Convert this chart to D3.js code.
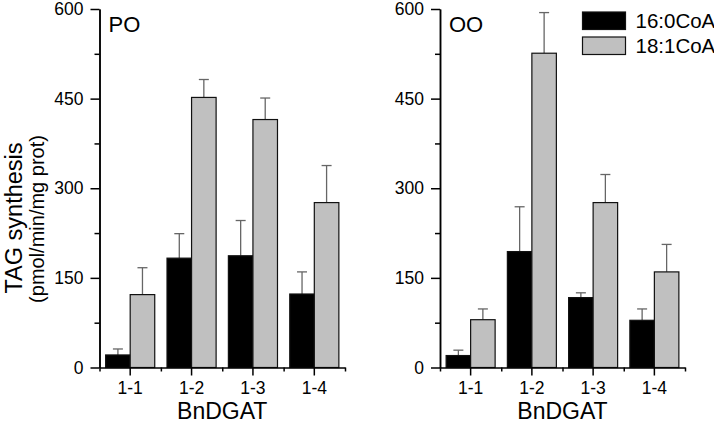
<!DOCTYPE html>
<html lang="en">
  <head>
    <meta charset="utf-8" />
    <title>TAG synthesis</title>
    <script src="https://cdnjs.cloudflare.com/ajax/libs/d3/7.0.0/d3.min.js"></script>
    <style>
      body {
        margin: 0;
        background: #fff;
      }
      svg {
        font-family: "Liberation Sans", Arial, sans-serif;
      }
      .axis path,
      .axis line {
        stroke: #000;
        stroke-width: 1.5px;
      }
      .axis text {
        font-size: 17.5px;
        fill: #000;
      }
      .err {
        stroke: #666;
        stroke-width: 1.3px;
      }
    </style>
  </head>
  <body>
    <div id="chart"></div>
    <script>
      // data
      const categories = ["1-1", "1-2", "1-3", "1-4"];
      const seriesNames = ["16:0CoA", "18:1CoA"];
      const poPalm = [21, 183, 187, 123];
      const poPalmErr = [10, 41, 59, 37];
      const poOle = [122, 452, 415, 276];
      const poOleErr = [45, 30, 36, 62];
      const ooPalm = [20, 194, 117, 79];
      const ooPalmErr = [9, 75, 8, 19];
      const ooOle = [80, 526, 276, 160];
      const ooOleErr = [18, 68, 47, 46];
      const yMajor = [0, 150, 300, 450, 600];
      const yMinor = [75, 225, 375, 525];

      const panels = [
        { title: "PO", x0: 99.5, x1: 345, series: [[poPalm, poPalmErr], [poOle, poOleErr]] },
        { title: "OO", x0: 440, x1: 685, series: [[ooPalm, ooPalmErr], [ooOle, ooOleErr]] },
      ];
      const fills = ["#000000", "#c0c0c0"];

      const width = 714,
        height = 424;
      const svg = d3
        .select("#chart")
        .append("svg")
        .attr("width", width)
        .attr("height", height);

      const y = d3.scaleLinear().domain([0, 600]).range([367.5, 9]);

      panels.forEach((p, pi) => {
        const x = d3
          .scaleBand()
          .domain(categories)
          .range([p.x0, p.x1])
          .paddingInner(0.2)
          .paddingOuter(0.1);
        const sub = d3
          .scaleBand()
          .domain(seriesNames)
          .range([0, x.bandwidth()]);
        const g = svg.append("g");

        // bars
        p.series.forEach((s, si) => {
          const vals = s[0],
            errs = s[1];
          const bx = (i) => x(categories[i]) + sub(seriesNames[si]);
          // error bars (upper only)
          vals.forEach((v, i) => {
            const cx = bx(i) + sub.bandwidth() / 2;
            g.append("line")
              .attr("class", "err")
              .attr("x1", cx)
              .attr("x2", cx)
              .attr("y1", y(v))
              .attr("y2", y(v + errs[i]));
            g.append("line")
              .attr("class", "err")
              .attr("x1", cx - 5)
              .attr("x2", cx + 5)
              .attr("y1", y(v + errs[i]))
              .attr("y2", y(v + errs[i]));
          });
          g.selectAll(".bar" + si)
            .data(vals)
            .enter()
            .append("rect")
            .attr("x", (d, i) => bx(i))
            .attr("y", (d) => y(d))
            .attr("width", sub.bandwidth())
            .attr("height", (d) => y(0) - y(d))
            .attr("fill", fills[si])
            .attr("stroke", "#111")
            .attr("stroke-width", 1.2);
        });

        // y axis
        g.append("g")
          .attr("class", "axis")
          .attr("transform", `translate(${p.x0},0)`)
          .call(d3.axisLeft(y).tickValues(yMinor).tickSize(5).tickSizeOuter(0).tickFormat(""));
        g.append("g")
          .attr("class", "axis")
          .attr("transform", `translate(${p.x0},0)`)
          .call(d3.axisLeft(y).tickValues(yMajor).tickSize(9).tickSizeOuter(0).tickPadding(7));

        // x axis: major ticks at group centres, minor at group edges
        const edges = d3.scaleLinear().domain([0, 4]).range([p.x0, p.x1]);
        g.append("g")
          .attr("class", "axis")
          .attr("transform", `translate(0,${y(0)})`)
          .call(d3.axisBottom(edges).tickValues([0, 1, 2, 3, 4]).tickSize(4).tickSizeOuter(0).tickFormat(""));
        g.append("g")
          .attr("class", "axis")
          .attr("transform", `translate(0,${y(0)})`)
          .call(d3.axisBottom(x).tickSize(8).tickSizeOuter(0).tickPadding(6))
          .select(".domain")
          .remove();

        g.append("text")
          .attr("x", (p.x0 + p.x1) / 2)
          .attr("y", 418.5)
          .attr("text-anchor", "middle")
          .attr("font-size", 23)
          .text("BnDGAT");

        g.append("text")
          .attr("x", p.x0 + 9)
          .attr("y", 32)
          .attr("font-size", 22)
          .text(p.title);
      });

      // y axis title
      svg.append("text")
        .attr("transform", "translate(21.5,218) rotate(-90)")
        .attr("text-anchor", "middle")
        .attr("font-size", 23.5)
        .text("TAG synthesis");
      svg.append("text")
        .attr("transform", "translate(44,219) rotate(-90)")
        .attr("text-anchor", "middle")
        .attr("font-size", 20)
        .text("(pmol/min/mg prot)");

      // legend
      const leg = svg.append("g").attr("transform", "translate(582.5,12)");
      seriesNames.forEach((n, i) => {
        leg.append("rect")
          .attr("x", 0)
          .attr("y", i * 25)
          .attr("width", 43)
          .attr("height", 17.5)
          .attr("fill", fills[i])
          .attr("stroke", "#111")
          .attr("stroke-width", 1.2);
        leg.append("text")
          .attr("x", 53)
          .attr("y", i * 25 + 16)
          .attr("font-size", 20.5)
          .text(n);
      });
    </script>
  </body>
</html>
